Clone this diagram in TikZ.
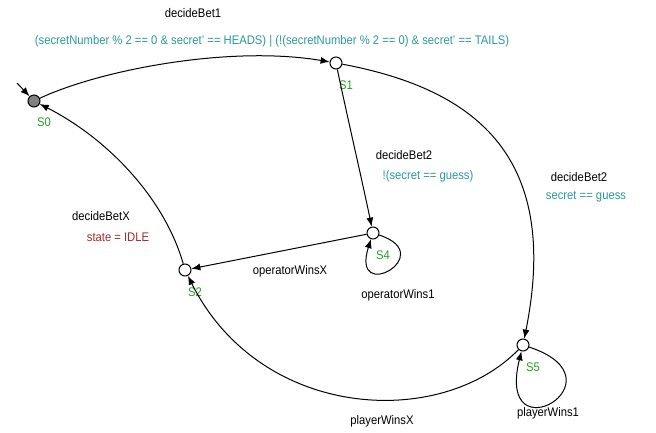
\documentclass[tikz,border=0pt]{standalone}
\usepackage{fontspec}
\setmainfont[FakeStretch=0.9]{Liberation Sans}
\usetikzlibrary{arrows.meta}
\definecolor{Guard}{HTML}{2A9A9A}
\definecolor{StateGreen}{HTML}{22A022}
\definecolor{Reset}{HTML}{A52A2A}
\definecolor{InitGray}{HTML}{808080}
\tikzset{
state/.style={circle,draw,fill=white,minimum size=12pt,inner sep=0pt,line width=1pt},
slabel/.style={text=StateGreen,inner sep=0pt},
act/.style={text=black,inner sep=0pt},
grd/.style={text=Guard,inner sep=0pt},
edge/.style={->,line width=1pt}
}
\begin{document}
\begin{tikzpicture}[x=1pt,y=-1pt,>={Latex[length=9pt,width=7pt]},font=\fontsize{12.5}{14}\selectfont]
\useasboundingbox(0,0)rectangle(656,433);
\node[state,fill=InitGray](s0)at(34,101){};
\node[slabel](l0)at(44,122){S0};
\foreach \n/\x/\y in {1/336/63,4/373/233,2/185/270,5/523/345}{
\node[state](s\n)at(\x,\y){};
\node[slabel](l\n)at(\x+10,\y+22){S\n};}
\coordinate(init)at(17,83);
\draw[edge](init)--(s0);
% decideBet1
\draw[edge](s0)..controls(100,70)and(230,45)..(s1);
\node[act](a01)at(193,13){decideBet1};
\node[grd](g01)at(272,41){(secretNumber \% 2 == 0 \& secret' == HEADS) | (!(secretNumber \% 2 == 0) \& secret' == TAILS)};
% decideBet2
\draw[edge](s1)..controls(348,120)and(362,180)..(s4);
\node[act](a14)at(404,155){decideBet2};
\node[grd](g14)at(428,176){!(secret == guess)};
\draw[edge](s1)..controls(480,90)and(560,160)..(s5);
\node[act](a15)at(579,177){decideBet2};
\node[grd](g15)at(586,197){secret == guess};
% wins
\draw[edge](s4)--(s2);
\node[act](a42)at(290,271){operatorWinsX};
\draw[edge](s4)..controls(440,255)and(350,305)..(s4);
\node[act](a44)at(398,295){operatorWins1};
\draw[edge](s5)..controls(440,430)and(260,420)..(s2);
\node[act](a52)at(382,421){playerWinsX};
\draw[edge](s5)..controls(628,380)and(495,458)..(s5);
\node[act](a55)at(548,413){playerWins1};
% reset
\draw[edge](s2)..controls(165,200)and(110,140)..(s0);
\node[act](a20)at(101,216){decideBetX};
\node[text=Reset,inner sep=0pt](g20)at(118,237){state = IDLE};
\end{tikzpicture}
\end{document}
